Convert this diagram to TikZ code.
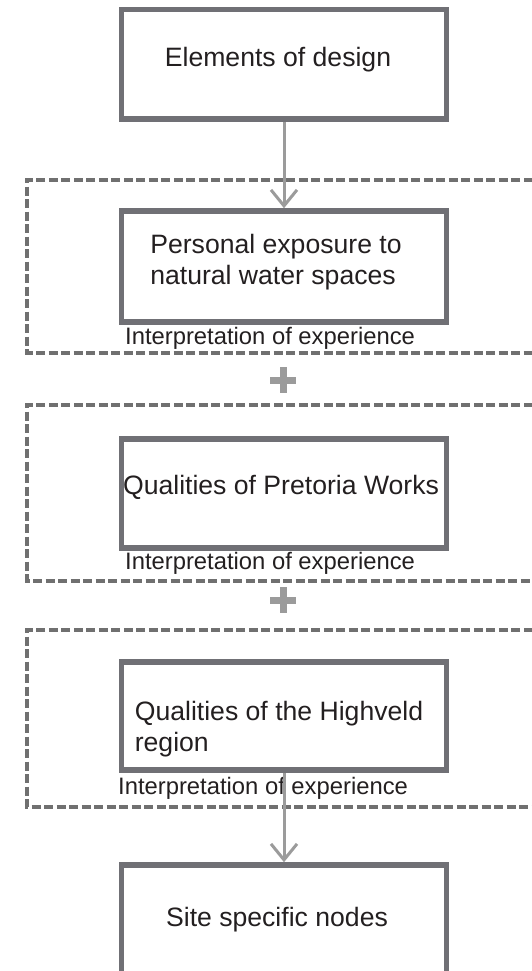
\documentclass[tikz,border=0pt]{standalone}
\usepackage{fontspec}
\setmainfont{Liberation Sans}
\usetikzlibrary{arrows.meta}
\definecolor{boxgray}{RGB}{112,112,117}
\definecolor{dashgray}{RGB}{112,112,112}
\definecolor{arrowgray}{RGB}{155,155,155}
\definecolor{inkgray}{RGB}{35,31,32}

\begin{document}
\begin{tikzpicture}[x=1pt,y=-1pt,
  box/.style={draw=boxgray, line width=5.5pt, minimum width=325pt, inner sep=0pt},
  boxtext/.style={text=inkgray, font=\fontsize{26.6}{31}\selectfont, align=left, inner sep=0pt},
  interp/.style={text=inkgray, font=\fontsize{23.8}{28}\selectfont, anchor=west, inner sep=0pt},
  frame/.style={draw=dashgray, line width=4pt, dash pattern=on 9pt off 3.5pt},
  flow/.style={draw=arrowgray, line width=3pt, -{Straight Barb[length=16pt,width=26pt]}},
  plus/.style={draw=arrowgray, line width=7pt}]
\useasboundingbox (0,0) rectangle (532,971);
\clip (0,0) rectangle (532,971);

% dashed frames round the three experiences
\foreach \t/\b in {179.5/352.5, 404.5/580.5, 629.5/807}
  \path[frame] (545,\t) -- (27,\t) -- (27,\b) -- (545,\b);

% boxes
\node[box, minimum height=109.5pt] (design) at (284,64.3) {};
\node[box, minimum height=111pt] (exposure) at (284,266.5) {};
\node[box, minimum height=109pt] (works) at (284,493.5) {};
\node[box, minimum height=108pt] (highveld) at (284,716) {};
\node[box, minimum height=120pt] (site) at (284,925) {};

\node[boxtext] (design-t) at (278,60) {Elements of design};
\node[boxtext] (exposure-t) at (276,262) {Personal exposure to\\natural water spaces};
\node[boxtext] (works-t) at (281,487) {Qualities of Pretoria Works};
\node[boxtext] (highveld-t) at (279,729) {Qualities of the Highveld\\region};
\node[boxtext] (site-t) at (277,920) {Site specific nodes};

\node[interp] (interp-1) at (125,338) {Interpretation of experience};
\node[interp] (interp-2) at (125,563) {Interpretation of experience};
\node[interp] (interp-3) at (118,788) {Interpretation of experience};

% arrows and plus signs
\path[flow] (design) -- (exposure);
\path[flow] (highveld) -- (site);
\foreach \y in {380,600}
  \path[plus] (270,\y) -- (296,\y) (283,\y-13) -- (283,\y+13);
\end{tikzpicture}
\end{document}
